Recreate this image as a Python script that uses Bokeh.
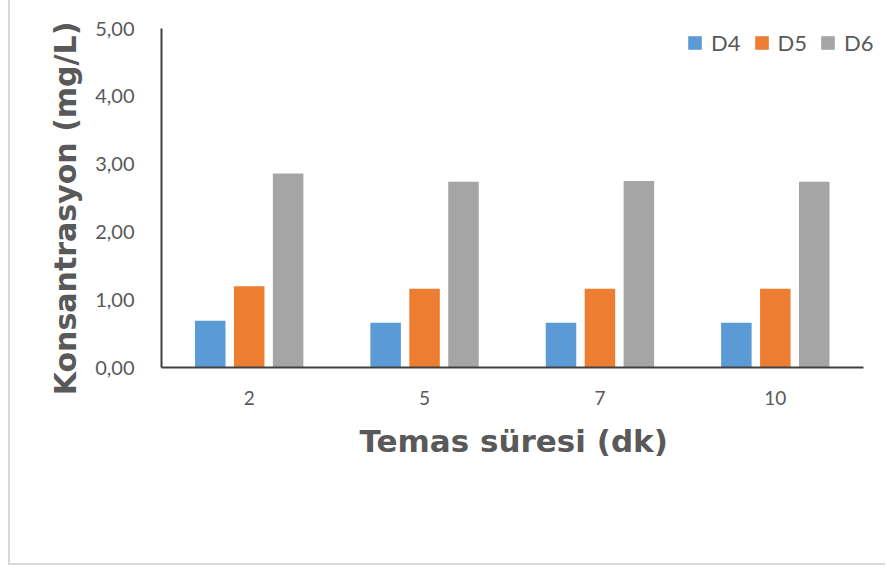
from bokeh.plotting import figure
from bokeh.models import ColumnDataSource, Range1d, CustomJSTickFormatter, Legend, LegendItem, FixedTicker
from bokeh.embed import file_html
from bokeh.resources import INLINE

categories = ["2", "5", "7", "10"]
d4 = [0.69, 0.66, 0.66, 0.66]
d5 = [1.20, 1.16, 1.16, 1.16]
d6 = [2.86, 2.74, 2.75, 2.74]
series_names = ["D4", "D5", "D6"]
colors = ["#5B9BD5", "#ED7D31", "#A5A5A5"]
y_ticks = [0, 1, 2, 3, 4, 5]

n = len(categories)
centers = [i + 0.5 for i in range(n)]
offsets = [-0.222, 0.0, 0.222]
source = ColumnDataSource(data=dict(
    cat=categories, D4=d4, D5=d5, D6=d6,
    x_D4=[c + offsets[0] for c in centers],
    x_D5=[c + offsets[1] for c in centers],
    x_D6=[c + offsets[2] for c in centers],
))

# frame spans x 161..887 in page pixels; categories occupy 161..862.5
x_end = n * (887 - 161) / (862.5 - 161)

p = figure(x_range=Range1d(0, x_end), y_range=Range1d(0, 5),
           width=877, height=565, output_backend="svg", toolbar_location=None,
           min_border_left=151, min_border_right=0, min_border_top=28, min_border_bottom=198)
p.styles = {"border-left": "2px solid #d9d9d9", "border-bottom": "2px solid #d9d9d9",
            "margin-left": "8px"}

renderers = []
for name, col in zip(series_names, colors):
    r = p.vbar(x="x_" + name, top=name, width=0.174,
               source=source, fill_color=col, line_color=None)
    renderers.append(r)

p.xgrid.visible = False
p.ygrid.visible = False
p.outline_line_color = None
p.background_fill_color = "white"
p.border_fill_color = "white"

TEXT = "#595959"
NB = "\u00a0"
# y axis
p.yaxis.ticker = FixedTicker(ticks=y_ticks)
p.yaxis.formatter = CustomJSTickFormatter(code="return tick.toFixed(2).replace('.', ',');")
p.yaxis.major_tick_line_color = None
p.yaxis.minor_tick_line_color = None
p.yaxis.axis_line_color = "#404040"
p.yaxis.axis_line_width = 2
p.yaxis.major_label_text_font = "Lato"
p.yaxis.major_label_text_font_size = "20px"
p.yaxis.major_label_text_color = TEXT
p.yaxis.major_label_standoff = 21
p.yaxis.axis_label = "Konsantrasyon (mg/L)" + NB * 2
p.yaxis.axis_label_text_font = "DejaVu Sans"
p.yaxis.axis_label_text_font_style = "bold"
p.yaxis.axis_label_text_font_size = "30px"
p.yaxis.axis_label_text_color = TEXT
p.yaxis.axis_label_standoff = 9

# x axis
p.xaxis.bounds = (0, n)
p.xaxis.ticker = FixedTicker(ticks=centers)
p.xaxis.formatter = CustomJSTickFormatter(args=dict(labels=categories),
                                          code="return labels[Math.floor(tick)];")
p.xaxis.major_tick_line_color = None
p.xaxis.minor_tick_line_color = None
p.xaxis.axis_line_color = "#404040"
p.xaxis.axis_line_width = 2
p.xaxis.major_label_text_font = "Lato"
p.xaxis.major_label_text_font_size = "19px"
p.xaxis.major_label_text_color = TEXT
p.xaxis.major_label_standoff = 17
p.xaxis.axis_label = "Temas süresi (dk)" + NB * 2
p.xaxis.axis_label_text_font = "DejaVu Sans"
p.xaxis.axis_label_text_font_style = "bold"
p.xaxis.axis_label_text_font_size = "31px"
p.xaxis.axis_label_text_color = TEXT
p.xaxis.axis_label_standoff = 15

legend = Legend(items=[LegendItem(label=s, renderers=[r]) for s, r in zip(series_names, renderers)],
                orientation="horizontal", location=(525, 311),
                padding=0, margin=0, spacing=12, label_standoff=8,
                glyph_width=17, glyph_height=17, label_height=17,
                label_text_font="Lato", label_text_font_size="22px", label_text_color=TEXT,
                border_line_color=None, background_fill_alpha=0)
p.add_layout(legend, "center")

open("out.html", "w").write(file_html(p, INLINE))
